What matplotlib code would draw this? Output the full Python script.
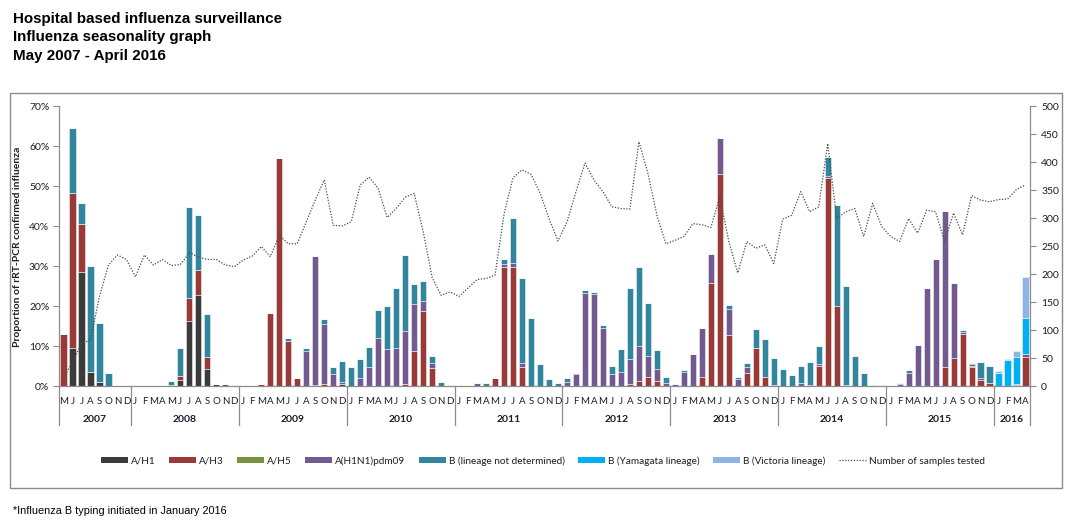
import numpy as np
import matplotlib
matplotlib.use("Agg")
import matplotlib.pyplot as plt
from matplotlib.patches import Rectangle, Patch
from matplotlib.lines import Line2D
import matplotlib.transforms as mtransforms

# monthly proportions (%) May 2007 - April 2016
h1 = [0, 9.6, 28.4, 3.6, 1.1, 0, 0, 0,
      0, 0, 0, 0, 0.3, 1.6, 16.2, 22.75, 4.25, 0.4, 0, 0,
      0, 0, 0, 0, 0, 0, 0, 0, 0, 0, 0, 0.6,
      0, 0, 0, 0, 0, 0, 0, 0, 0, 0, 0, 0,
      0, 0, 0, 0, 0, 0, 0, 0, 0, 0, 0, 0,
      0, 0, 0, 0, 0, 0, 0, 0, 0, 0, 0, 0,
      0, 0, 0, 0, 0, 0, 0, 0, 0, 0, 0, 0,
      0, 0, 0, 0, 0, 0, 0, 0, 0, 0, 0, 0,
      0, 0, 0, 0, 0, 0, 0, 0, 0, 0, 0, 0,
      0, 0, 0, 0]
h3 = [12.9, 38.6, 12.1, 0, 0, 0, 0, 0,
      0, 0, 0, 0, 0, 0.9, 5.9, 6.25, 3.1, 0, 0.4, 0,
      0, 0, 0.4, 18.2, 56.9, 11.3, 1.9, 0, 0.3, 0.4, 0, 0,
      0, 0, 0, 0, 0, 0, 0.6, 8.8, 18.8, 4.6, 0, 0,
      0, 0, 0, 0, 1.9, 29.8, 29.8, 4.8, 0, 0, 0, 0,
      0, 0, 0, 0, 0, 0, 0, 0.5, 1.3, 2.2, 1.3, 0,
      0, 0, 0, 2.2, 25.7, 53.0, 12.7, 0, 3.25, 9.6, 2.2, 0.25,
      0, 0, 0, 0, 5.1, 52.1, 20.1, 0.2, 0, 0, 0, 0,
      0, 0, 0, 0, 0, 0, 4.7, 6.9, 12.9, 4.7, 1.5, 0.7,
      0, 0, 0.25, 7.25]
h5 = [0, 0, 0, 0, 0, 0, 0, 0,
      0, 0, 0, 0, 0, 0, 0, 0, 0, 0, 0, 0,
      0, 0, 0, 0, 0, 0, 0, 0, 0, 0, 0, 0,
      0, 0, 0, 0, 0, 0, 0, 0, 0, 0, 0, 0,
      0, 0, 0, 0, 0, 0, 0, 0, 0, 0, 0, 0,
      0, 0, 0, 0, 0, 0, 0, 0, 0, 0, 0, 0,
      0, 0, 0, 0, 0, 0, 0, 0, 0, 0, 0, 0,
      0, 0, 0, 0, 0, 0, 0, 0, 0, 0, 0, 0,
      0, 0, 0, 0, 0, 0, 0, 0, 0, 0.3, 0, 0,
      0, 0, 0, 0]
pdm09 = [0, 0, 0, 0, 0, 0, 0, 0,
         0, 0, 0, 0, 0, 0, 0, 0, 0, 0, 0, 0,
         0, 0, 0, 0, 0, 0, 0, 8.8, 32.2, 15.0, 2.9, 0.5,
         0, 2.1, 4.8, 11.9, 9.2, 9.4, 13.15, 11.6, 2.5, 1.15, 0, 0,
         0, 0, 0.8, 0, 0, 0.8, 1.0, 0.9, 0, 0, 0, 0,
         1.1, 2.9, 23.2, 23.1, 14.6, 2.9, 3.6, 6.3, 8.8, 5.3, 2.9, 0.7,
         0.6, 3.6, 8.0, 12.2, 7.2, 9.1, 6.5, 1.75, 1.5, 0, 0, 0,
         0, 0, 0.7, 0.2, 0.3, 0.4, 0, 0, 0, 0, 0, 0,
         0, 0.4, 3.2, 10.25, 24.6, 31.7, 39.05, 18.9, 0.7, 0.4, 0.4, 0,
         0, 0, 0.3, 0.75]
b_nd = [0, 16.2, 5.2, 26.4, 14.7, 3.2, 0, 0,
        0, 0, 0, 0, 0.9, 7.0, 22.7, 13.75, 10.7, 0, 0, 0,
        0, 0, 0, 0, 0, 0.6, 0, 0.6, 0, 1.35, 1.9, 5.15,
        4.8, 4.65, 4.9, 7.0, 10.7, 15.0, 19.05, 5.0, 5.0, 1.65, 1.1, 0,
        0, 0, 0, 0.8, 0, 1.2, 11.1, 21.2, 16.9, 5.4, 1.8, 0.8,
        0.8, 0.35, 0.8, 0.3, 0.6, 2.0, 5.7, 17.8, 19.7, 13.25, 4.8, 1.6,
        0, 0.4, 0, 0, 0, 0, 1.1, 0.5, 0.95, 4.6, 9.5, 6.85,
        4.25, 2.75, 4.3, 5.7, 4.7, 4.8, 25.15, 24.8, 7.4, 3.25, 0.25, 0,
        0, 0.35, 0.8, 0, 0, 0, 0, 0, 0.5, 0.4, 4.0, 4.3,
        0, 0, 0, 0]
b_yam = [0, 0, 0, 0, 0, 0, 0, 0,
         0, 0, 0, 0, 0, 0, 0, 0, 0, 0, 0, 0,
         0, 0, 0, 0, 0, 0, 0, 0, 0, 0, 0, 0,
         0, 0, 0, 0, 0, 0, 0, 0, 0, 0, 0, 0,
         0, 0, 0, 0, 0, 0, 0, 0, 0, 0, 0, 0,
         0, 0, 0, 0, 0, 0, 0, 0, 0, 0, 0, 0,
         0, 0, 0, 0, 0, 0, 0, 0, 0, 0, 0, 0,
         0, 0, 0, 0, 0, 0, 0, 0, 0, 0, 0, 0,
         0, 0, 0, 0, 0, 0, 0, 0, 0, 0, 0, 0,
         3.3, 6.4, 6.75, 8.9]
b_vic = [0, 0, 0, 0, 0, 0, 0, 0,
         0, 0, 0, 0, 0, 0, 0, 0, 0, 0, 0, 0,
         0, 0, 0, 0, 0, 0, 0, 0, 0, 0, 0, 0,
         0, 0, 0, 0, 0, 0, 0, 0, 0, 0, 0, 0,
         0, 0, 0, 0, 0, 0, 0, 0, 0, 0, 0, 0,
         0, 0, 0, 0, 0, 0, 0, 0, 0, 0, 0, 0,
         0, 0, 0, 0, 0, 0, 0, 0, 0, 0, 0, 0,
         0, 0, 0, 0, 0, 0, 0, 0, 0, 0, 0, 0,
         0, 0, 0, 0, 0, 0, 0, 0, 0, 0, 0, 0,
         0.4, 0.4, 1.45, 10.35]
samples = [16, 42, 76, 82, 160, 216, 234, 226,
           195, 234, 216, 226, 215, 217, 238, 230, 226, 226, 216, 213,
           225, 232, 249, 231, 269, 254, 254, 293, 332, 368, 287, 286,
           293, 359, 373, 353, 301, 317, 337, 344, 276, 194, 162, 168,
           160, 175, 190, 192, 198, 307, 372, 386, 378, 345, 299, 259,
           293, 347, 398, 368, 347, 320, 317, 316, 436, 380, 305, 254,
           260, 267, 290, 288, 283, 338, 258, 202, 258, 246, 252, 219,
           298, 305, 347, 311, 320, 433, 299, 311, 317, 267, 326, 285,
           267, 258, 299, 273, 314, 311, 258, 309, 270, 340, 332, 329,
           333, 334, 351, 359]

month_labels = (list("MJJASOND") + list("JFMAMJJASOND") * 8 + list("JFMA"))
years = ["2007", "2008", "2009", "2010", "2011", "2012", "2013", "2014", "2015", "2016"]
year_months = [8, 12, 12, 12, 12, 12, 12, 12, 12, 4]

series = [
    ("A/H1", h1, "#3b3b3b"),
    ("A/H3", h3, "#973a38"),
    ("A/H5", h5, "#77933c"),
    ("A(H1N1)pdm09", pdm09, "#72598f"),
    ("B (lineage not determined)", b_nd, "#31859c"),
    ("B (Yamagata lineage)", b_yam, "#00b0f0"),
    ("B (Victoria lineage)", b_vic, "#8eb4e3"),
]

plt.rcParams["font.family"] = ["Lato", "DejaVu Sans"]
txt = "#1c1c2a"
axc = "#8c8c8c"

fig = plt.figure(figsize=(10.78, 5.24), dpi=100)
ax = fig.add_axes([59 / 1078, 138 / 524, 971 / 1078, 280 / 524])
x = np.arange(len(month_labels))

bottom = np.zeros(len(x))
handles = []
for name, vals, col in series:
    v = np.array(vals, dtype=float)
    ax.bar(x, v, width=0.68, bottom=bottom, color=col,
           edgecolor=(1, 1, 1, 0.55), linewidth=0.6, zorder=2)
    bottom += v
    handles.append(Patch(facecolor=col, edgecolor="none", label=name))

ax.set_xlim(-0.5, len(x) - 0.5)
ax.set_ylim(0, 70)
ax.set_yticks(np.arange(0, 71, 10))
ax.set_yticklabels([f"{t}%" for t in range(0, 71, 10)])
ax.set_xticks(x)
ax.set_xticklabels(month_labels)
ax.tick_params(axis="x", length=0, pad=8, labelsize=7, labelcolor=txt)
ax.tick_params(axis="y", length=4, width=0.8, color=axc, labelsize=7.5,
               labelcolor=txt, pad=3)
for s in ["top", "right"]:
    ax.spines[s].set_visible(False)
for s in ["left", "bottom"]:
    ax.spines[s].set_color(axc)
    ax.spines[s].set_linewidth(0.9)

# year labels and separators under the category axis
trans = mtransforms.blended_transform_factory(ax.transData, ax.transAxes)
start = -0.5
bounds = [start]
for yr, n in zip(years, year_months):
    ax.text(start + n / 2, -0.118, yr, transform=trans, ha="center", va="center",
            fontsize=7.5, fontweight="bold", color=txt)
    start += n
    bounds.append(start)
for bx in bounds:
    ax.add_line(Line2D([bx, bx], [0, -0.14], transform=trans, color=axc,
                       linewidth=0.9, clip_on=False))

ax2 = ax.twinx()
ax2.plot(x, samples, color="#4a4a4a", linestyle=(0, (1, 1.3)), linewidth=0.9,
         zorder=3)
ax2.set_ylim(0, 500)
ax2.set_yticks(np.arange(0, 501, 50))
ax2.tick_params(axis="y", length=4, width=0.8, color=axc, labelsize=7.5,
                labelcolor=txt, pad=4)
for s in ["top", "left", "bottom"]:
    ax2.spines[s].set_visible(False)
ax2.spines["right"].set_color(axc)
ax2.spines["right"].set_linewidth(0.9)

fig.text(18 / 1078, 1 - 247 / 524, "Proportion of rRT-PCR confirmed influenza",
         rotation=90, ha="center", va="center", fontsize=7.5,
         fontweight="bold", color=txt)

handles.append(Line2D([], [], color="#4a4a4a", linestyle=(0, (1, 1.3)),
                      linewidth=0.9, label="Number of samples tested"))
fig.legend(handles=handles, loc="center", bbox_to_anchor=(543 / 1078, 1 - 461 / 524),
           ncol=8, frameon=False, fontsize=7.2, handlelength=2.7, handleheight=0.6,
           handletextpad=0.3, columnspacing=1.35, labelcolor=txt)

# outer chart frame
fig.add_artist(Rectangle((10 / 1078, 1 - 488 / 524), 1052 / 1078, 395 / 524,
                         transform=fig.transFigure, fill=False,
                         edgecolor="#8c8c8c", linewidth=1.0))

title_font = ["Liberation Sans", "DejaVu Sans"]
for yb, line in [(22.7, "Hospital based influenza surveillance"),
                 (41.2, "Influenza seasonality graph"),
                 (59.7, "May 2007 - April 2016")]:
    fig.text(13 / 1078, 1 - yb / 524, line, ha="left", va="baseline",
             fontsize=10.9, fontweight="bold", family=title_font, color="black")
fig.text(13 / 1078, 1 - 514 / 524, "*Influenza B typing initiated in January 2016",
         ha="left", va="baseline", fontsize=7.8, family=title_font, color="black")

fig.savefig("out.png", dpi=100)
